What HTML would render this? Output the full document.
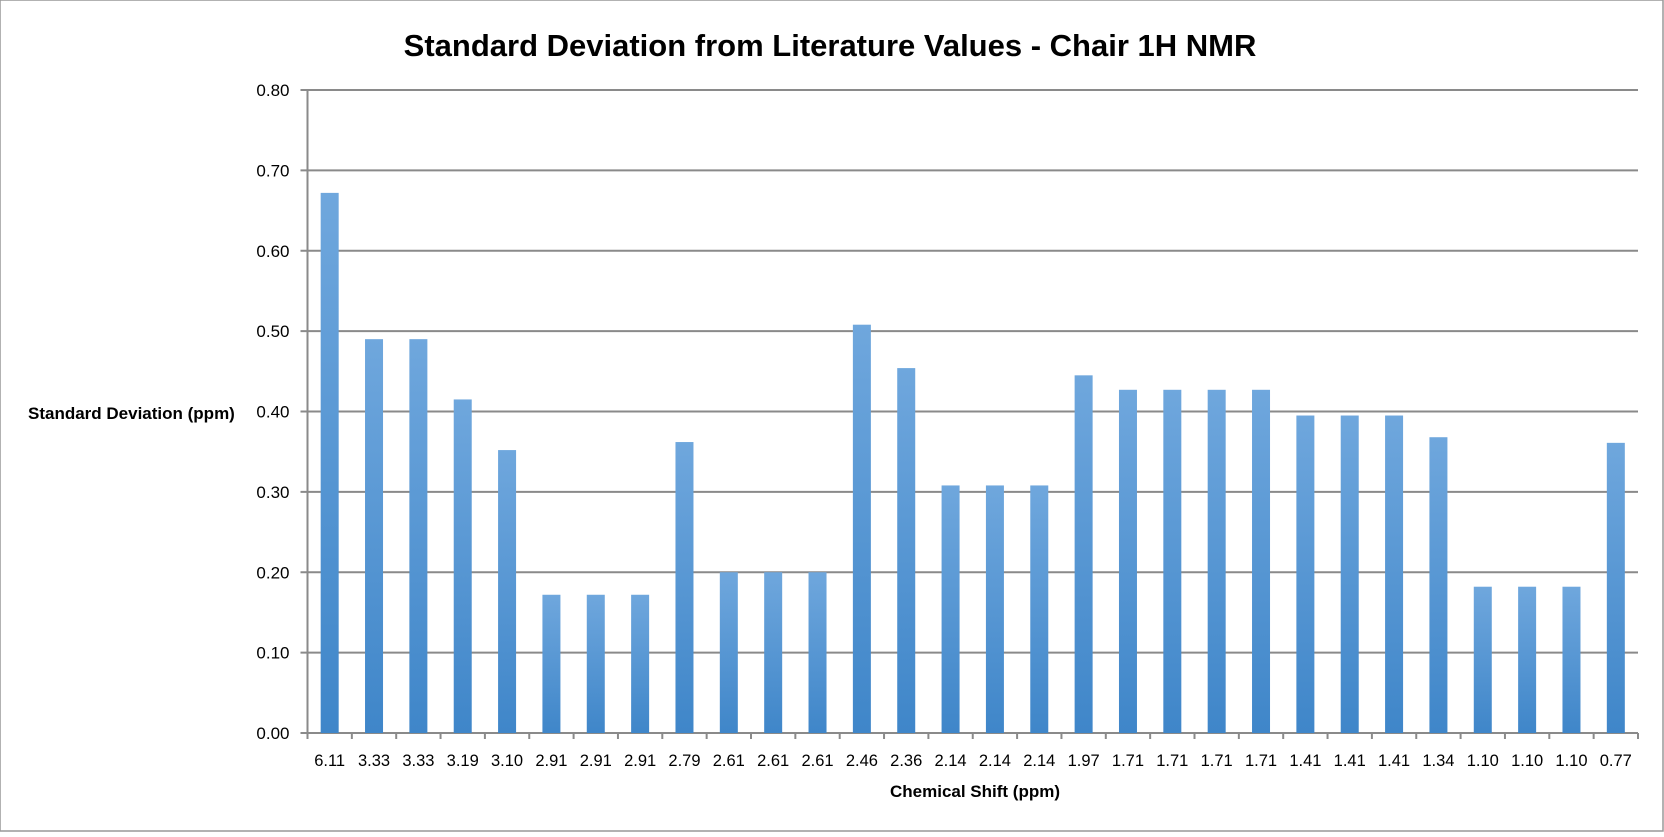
<!DOCTYPE html>
<html><head><meta charset="utf-8"><style>
body{margin:0;background:#fff}
svg text{font-family:"Liberation Sans",sans-serif}
</style></head><body>
<svg width="1664" height="832" xmlns="http://www.w3.org/2000/svg">
<defs><linearGradient id="g" x1="0" y1="0" x2="0" y2="1"><stop offset="0" stop-color="#6fa7dd"/><stop offset="1" stop-color="#3f86c9"/></linearGradient></defs>
<rect x="0" y="0" width="1663" height="831" fill="#fff" stroke="#999" stroke-width="1.5"/>
<text x="830" y="56" font-size="31" font-weight="bold" text-anchor="middle">Standard Deviation from Literature Values - Chair 1H NMR</text>
<g id="grid" stroke="#8a8a8a" stroke-width="2"></g>
<g id="bars"></g>
<g id="lab" font-size="17" text-anchor="end"></g>
<text x="28" y="419" font-size="17" font-weight="bold">Standard Deviation (ppm)</text>
<text x="975" y="797" font-size="17" font-weight="bold" text-anchor="middle">Chemical Shift (ppm)</text>
</svg>
<script>
const vals=[0.672,0.490,0.490,0.415,0.352,0.172,0.172,0.172,0.362,0.200,0.200,0.200,0.508,0.454,0.308,0.308,0.308,0.445,0.427,0.427,0.427,0.427,0.395,0.395,0.395,0.368,0.182,0.182,0.182,0.361];
const labs=["6.11","3.33","3.33","3.19","3.10","2.91","2.91","2.91","2.79","2.61","2.61","2.61","2.46","2.36","2.14","2.14","2.14","1.97","1.71","1.71","1.71","1.71","1.41","1.41","1.41","1.34","1.10","1.10","1.10","0.77"];
const NS="http://www.w3.org/2000/svg",L=307.5,R=1638,T=90,B=733,S=(B-T)/0.8,W=(R-L)/30;
function el(p,t,a,txt){const e=document.createElementNS(NS,t);for(const k in a)e.setAttribute(k,a[k]);if(txt)e.textContent=txt;document.querySelector(p).appendChild(e);}
for(let i=0;i<=8;i++){const y=B-i*S*0.1;el('#grid','line',{x1:L-7,x2:R,y1:y,y2:y});el('#lab','text',{x:L-18,y:y+6},(i/10).toFixed(2));}
el('#grid','line',{x1:L,x2:L,y1:T,y2:B+5});
for(let i=0;i<=30;i++){const x=L+i*W;el('#grid','line',{x1:x,x2:x,y1:B,y2:B+6});}
vals.forEach((v,i)=>{const cx=L+(i+0.5)*W,h=v*S;el('#bars','rect',{x:cx-9,y:B-h,width:18,height:h,fill:'url(#g)'});
el('#bars','text',{x:cx,y:766,'font-size':16.5,'text-anchor':'middle'},labs[i]);});
</script>
</body></html>
